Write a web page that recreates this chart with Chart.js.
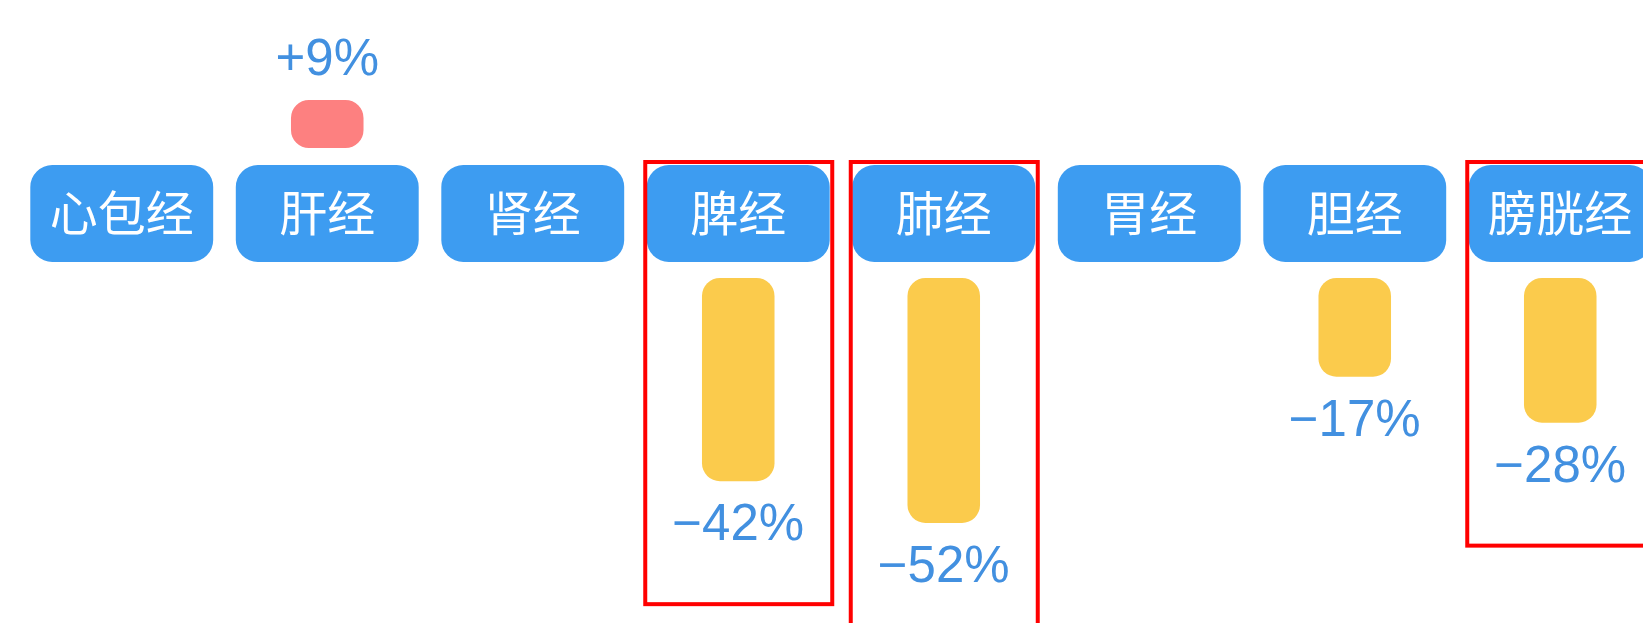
<!DOCTYPE html>
<html>
<head>
    <meta charset="UTF-8">
    <title>经络变化</title>
    <script src="https://cdn.jsdelivr.net/npm/chart.js"></script>
    <style>
        html, body {
            margin: 0;
            padding: 0;
            background: #ffffff;
            overflow: hidden;
        }
        .chart-container {
            position: absolute;
            left: 19px;
            top: 0;
            width: 1644px;
            height: 623px;
        }
    </style>
</head>
<body>
    <div class="chart-container">
        <canvas id="meridianChart"></canvas>
    </div>

    <script>
        // data
        var meridians = ['心包经', '肝经', '肾经', '脾经', '肺经', '胃经', '胆经', '膀胱经'];
        var changes = [0, 9, 0, -42, -52, 0, -17, -28];   // percent
        var highlighted = ['脾经', '肺经', '膀胱经'];

        // layout (pixels), y axis runs in "pixel / K" units
        var K = 4.18;
        function v(px) { return -px / K; }

        var BOX_TOP = 165, BOX_BOTTOM = 262;
        var POS_START = 148, POS_ZERO = 137.6;   // bars above the label row
        var NEG_START = 278, NEG_ZERO = 305.6;   // bars below the label row

        var boxData = meridians.map(function () { return [v(BOX_BOTTOM), v(BOX_TOP)]; });
        var barData = changes.map(function (c) {
            if (c === 0) return null;
            if (c > 0) return [v(POS_START), v(POS_ZERO) + c];
            return [v(NEG_START), v(NEG_ZERO) + c];
        });
        var barColors = changes.map(function (c) { return c > 0 ? '#fd8080' : '#fbcb4c'; });

        var overlay = {
            id: 'overlay',
            afterDatasetsDraw: function (chart) {
                var ctx = chart.ctx;
                var boxes = chart.getDatasetMeta(0).data;
                var bars = chart.getDatasetMeta(1).data;
                ctx.save();

                // label text inside the blue boxes
                ctx.fillStyle = '#ffffff';
                ctx.font = '48px "Noto Sans CJK SC", sans-serif';
                ctx.textAlign = 'center';
                ctx.textBaseline = 'middle';
                boxes.forEach(function (el, i) {
                    var mid = (el.y + el.base) / 2;
                    ctx.fillText(meridians[i], el.x, mid - 1);
                });

                // percent labels
                ctx.fillStyle = '#4290e0';
                ctx.font = '51px "Liberation Sans", Arial, sans-serif';
                var ends = {};
                bars.forEach(function (el, i) {
                    var c = changes[i];
                    if (!c) return;
                    if (c > 0) {
                        var top = Math.min(el.y, el.base);
                        ctx.fillText('+' + c + '%', el.x, top - 39);
                    } else {
                        var bottom = Math.max(el.y, el.base);
                        ctx.fillText('\u2212' + Math.abs(c) + '%', el.x, bottom + 45);
                        ends[i] = bottom;
                    }
                });

                // red highlight frames
                ctx.strokeStyle = '#ff0000';
                ctx.lineWidth = 4;
                boxes.forEach(function (el, i) {
                    if (highlighted.indexOf(meridians[i]) < 0) return;
                    var bottom = (ends[i] !== undefined ? ends[i] : el.base) + 123;
                    ctx.strokeRect(el.x - 93, 162, 187, bottom - 162);
                });
                ctx.restore();
            }
        };

        var ctx = document.getElementById('meridianChart').getContext('2d');
        var meridianChart = new Chart(ctx, {
            type: 'bar',
            data: {
                labels: meridians,
                datasets: [{
                    data: boxData,
                    backgroundColor: '#3d9cf1',
                    borderRadius: 22,
                    borderSkipped: false,
                    grouped: false,
                    barPercentage: 0.89,
                    categoryPercentage: 1
                }, {
                    data: barData,
                    backgroundColor: barColors,
                    borderRadius: 18,
                    borderSkipped: false,
                    grouped: false,
                    barPercentage: 0.353,
                    categoryPercentage: 1
                }]
            },
            options: {
                responsive: true,
                maintainAspectRatio: false,
                animation: false,
                layout: { padding: 0 },
                plugins: {
                    legend: { display: false },
                    tooltip: { enabled: false }
                },
                scales: {
                    x: { display: false, offset: true },
                    y: { display: false, min: v(623), max: 0 }
                }
            },
            plugins: [overlay]
        });
    </script>
</body>
</html>
